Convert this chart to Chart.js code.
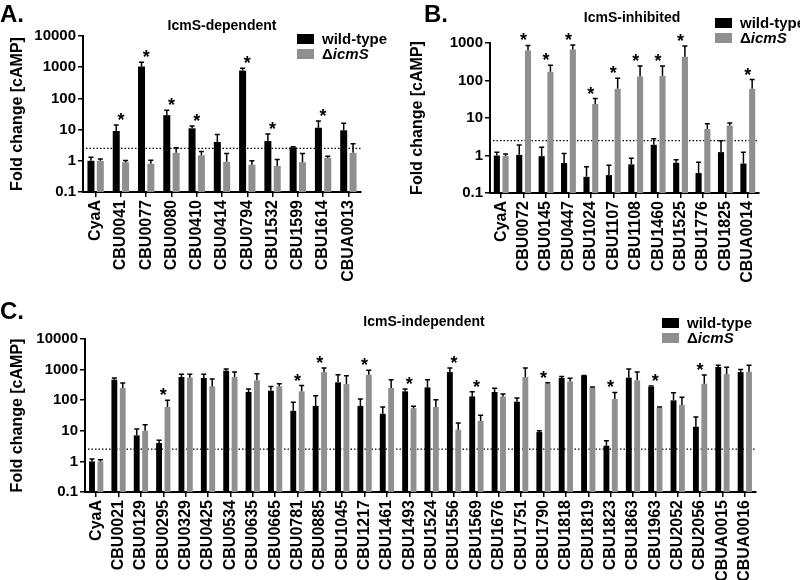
<!DOCTYPE html>
<html lang="en">
<head>
  <meta charset="UTF-8" />
  <title>Fold change cAMP - IcmS panels</title>
  <script src="https://cdn.jsdelivr.net/npm/chart.js"></script>
  <style>
    body { margin: 0; background: #fff; font-family: "Liberation Sans", Arial, sans-serif; }
    #wrap { position: relative; width: 800px; height: 580px; overflow: hidden; }
    canvas { position: absolute; }
    .lbl { position: absolute; font-weight: bold; color: #000; white-space: nowrap; }
    .letter { font-size: 24px; }
    .ttl { font-size: 14px; transform: translateX(-50%); }
    .leg { position: absolute; font-weight: bold; font-size: 15px; line-height: 15px; white-space: nowrap; }
    .leg div { height: 15px; display: flex; align-items: center; }
    .sw { display: inline-block; width: 17px; height: 10px; margin-right: 8px; }
  </style>
</head>
<body>
<div id="wrap">
  <canvas id="chartA" width="400" height="290" style="left:0;top:0"></canvas>
  <canvas id="chartB" width="400" height="290" style="left:400px;top:0"></canvas>
  <canvas id="chartC" width="800" height="290" style="left:0;top:290px"></canvas>

  <div class="lbl letter" style="left:0;top:0">A.</div>
  <div class="lbl letter" style="left:424px;top:0">B.</div>
  <div class="lbl letter" style="left:0;top:297px">C.</div>

  <div class="lbl ttl" style="left:222px;top:17px">IcmS-dependent</div>
  <div class="lbl ttl" style="left:632px;top:9px">IcmS-inhibited</div>
  <div class="lbl ttl" style="left:424px;top:313px">IcmS-independent</div>

  <div class="leg" style="left:297px;top:31px">
    <div><span class="sw" style="background:#000"></span>wild-type</div>
    <div><span class="sw" style="background:#8f8f8f"></span>Δ<i>icmS</i></div>
  </div>
  <div class="leg" style="left:715px;top:15px">
    <div><span class="sw" style="background:#000"></span>wild-type</div>
    <div><span class="sw" style="background:#8f8f8f"></span>Δ<i>icmS</i></div>
  </div>
  <div class="leg" style="left:662px;top:315px">
    <div><span class="sw" style="background:#000"></span>wild-type</div>
    <div><span class="sw" style="background:#8f8f8f"></span>Δ<i>icmS</i></div>
  </div>
</div>

<script>
  // panel A - IcmS-dependent
  const catsA = ['CyaA', 'CBU0041', 'CBU0077', 'CBU0080', 'CBU0410', 'CBU0414', 'CBU0794', 'CBU1532', 'CBU1599', 'CBU1614', 'CBUA0013'];
  const wtA = [1.0, 9, 1050, 29, 11, 4.0, 780, 4.3, 2.7, 11.5, 9.5];
  const wtUpA = [1.3, 14, 1450, 42, 13, 7, 920, 7.2, 2.8, 19, 16];
  const mutA = [1.0, 0.9, 0.8, 1.8, 1.5, 0.93, 0.75, 0.68, 0.9, 1.25, 1.8];
  const mutUpA = [1.15, 1.02, 1.05, 2.6, 2.0, 1.7, 1.0, 1.1, 1.7, 1.4, 3.5];
  const starsA = ['CBU0041', 'CBU0077', 'CBU0080', 'CBU0410', 'CBU0794', 'CBU1532', 'CBU1614'];
  const yTicksA = [0.1, 1, 10, 100, 1000, 10000];

  // panel B - IcmS-inhibited
  const catsB = ['CyaA', 'CBU0072', 'CBU0145', 'CBU0447', 'CBU1024', 'CBU1107', 'CBU1108', 'CBU1460', 'CBU1525', 'CBU1776', 'CBU1825', 'CBUA0014'];
  const wtB = [1.0, 1.04, 0.96, 0.63, 0.27, 0.3, 0.58, 1.93, 0.64, 0.34, 1.23, 0.61];
  const wtUpB = [1.23, 1.9, 1.67, 1.13, 0.5, 0.55, 0.85, 2.8, 0.77, 0.66, 2.46, 1.23];
  const mutB = [0.97, 630, 170, 670, 23.6, 60, 128, 133, 430, 5.1, 6.3, 60];
  const mutUpB = [1.1, 860, 256, 890, 33, 115, 245, 245, 830, 7.0, 7.4, 106];
  const starsB = ['CBU0072', 'CBU0145', 'CBU0447', 'CBU1024', 'CBU1107', 'CBU1108', 'CBU1460', 'CBU1525', 'CBUA0014'];
  const yTicksB = [0.1, 1, 10, 100, 1000];

  // panel C - IcmS-independent
  const catsC = ['CyaA', 'CBU0021', 'CBU0129', 'CBU0295', 'CBU0329', 'CBU0425', 'CBU0534', 'CBU0635', 'CBU0665', 'CBU0781',
    'CBU0885', 'CBU1045', 'CBU1217', 'CBU1461', 'CBU1493', 'CBU1524', 'CBU1556', 'CBU1569', 'CBU1676', 'CBU1751',
    'CBU1790', 'CBU1818', 'CBU1819', 'CBU1823', 'CBU1863', 'CBU1963', 'CBU2052', 'CBU2056', 'CBUA0015', 'CBUA0016'];
  const wtC = [1.0, 468, 7.1, 4.0, 572, 530, 920, 185, 204, 45, 65, 383, 65, 36, 195, 262, 830, 133, 185, 89,
    9.1, 530, 630, 3.25, 545, 276, 99, 13.6, 1215, 830];
  const wtUpC = [1.19, 530, 11.4, 4.9, 710, 700, 1040, 232, 283, 85, 140, 680, 109, 60, 232, 468, 1120, 190, 244, 118,
    10, 600, 640, 4.7, 1040, 290, 176, 28, 1400, 1000];
  const mutC = [1.0, 250, 10, 60, 545, 283, 572, 445, 283, 195, 830, 337, 680, 250, 55, 60, 10.8, 21, 133, 572,
    346, 413, 257, 109, 445, 57, 70, 346, 710, 850];
  const mutUpC = [1.13, 365, 15.8, 99, 710, 495, 830, 735, 346, 300, 1120, 630, 945, 468, 63, 104, 18, 32, 158, 1120,
    373, 520, 270, 180, 830, 60, 126, 665, 1190, 1400];
  const starsC = ['CBU0295', 'CBU0781', 'CBU0885', 'CBU1217', 'CBU1493', 'CBU1556', 'CBU1569', 'CBU1790', 'CBU1823', 'CBU1963', 'CBU2056'];
  const yTicksC = [0.1, 1, 10, 100, 1000, 10000];

  const cutoff = 2.5;
  const GRAY = '#8f8f8f';
  const FONT = '"Liberation Sans", Arial, sans-serif';

  Chart.defaults.font.family = FONT;
  Chart.defaults.color = '#000';

  // dotted cutoff line under the bars, error bars + asterisks on top
  const extras = {
    id: 'extras',
    beforeDatasetsDraw(chart) {
      const ctx = chart.ctx, y = chart.scales.y, a = chart.chartArea;
      const cy = y.getPixelForValue(cutoff);
      ctx.save();
      ctx.strokeStyle = '#000';
      ctx.lineWidth = 1.3;
      ctx.setLineDash([1.5, 2]);
      ctx.beginPath();
      ctx.moveTo(a.left + 3, cy);
      ctx.lineTo(a.right, cy);
      ctx.stroke();
      ctx.restore();
    },
    afterDatasetsDraw(chart, args, opts) {
      const ctx = chart.ctx, y = chart.scales.y, x = chart.scales.x;
      ctx.save();
      ctx.strokeStyle = '#000';
      ctx.lineWidth = 1.5;
      chart.data.datasets.forEach((ds, di) => {
        chart.getDatasetMeta(di).data.forEach((bar, i) => {
          const top = y.getPixelForValue(ds.upper[i]);
          ctx.beginPath();
          ctx.moveTo(bar.x, bar.y);
          ctx.lineTo(bar.x, top);
          ctx.moveTo(bar.x - 2.5, top);
          ctx.lineTo(bar.x + 2.5, top);
          ctx.stroke();
        });
      });
      ctx.fillStyle = '#000';
      ctx.font = 'bold 18px ' + FONT;
      ctx.textAlign = 'center';
      ctx.textBaseline = 'alphabetic';
      const labels = chart.data.labels;
      opts.stars.forEach(name => {
        const i = labels.indexOf(name);
        const hi = Math.max(...chart.data.datasets.map(ds => ds.upper[i]));
        ctx.fillText('*', x.getPixelForValue(i), y.getPixelForValue(hi) + 1);
      });
      ctx.restore();
    }
  };

  function makePanel(id, cats, wt, wtUp, mut, mutUp, stars, yTicks, box, catPct, barPct) {
    const canvas = document.getElementById(id);
    return new Chart(canvas, {
      type: 'bar',
      data: {
        labels: cats,
        datasets: [
          { label: 'wild-type', data: wt, upper: wtUp, backgroundColor: '#000', borderWidth: 0, categoryPercentage: catPct, barPercentage: barPct },
          { label: 'ΔicmS', data: mut, upper: mutUp, backgroundColor: GRAY, borderWidth: 0, categoryPercentage: catPct, barPercentage: barPct }
        ]
      },
      options: {
        responsive: false,
        animation: false,
        layout: { padding: { left: 0, top: box.top, right: canvas.width - box.right, bottom: 0 } },
        plugins: {
          legend: { display: false },
          tooltip: { enabled: false },
          extras: { stars: stars }
        },
        scales: {
          x: {
            type: 'category',
            offset: true,
            afterFit: s => { s.height = canvas.height - box.bottom; },
            border: { color: '#000', width: 2 },
            grid: { offset: false, drawOnChartArea: false, color: '#000', lineWidth: 1.5, tickLength: 5 },
            ticks: { autoSkip: false, maxRotation: 90, minRotation: 90, padding: 3, font: { size: 16, weight: 'bold' } }
          },
          y: {
            type: 'logarithmic',
            min: yTicks[0],
            max: yTicks[yTicks.length - 1],
            afterFit: s => { s.width = box.left; },
            afterBuildTicks: s => { s.ticks = yTicks.map(v => ({ value: v })); },
            border: { color: '#000', width: 2 },
            grid: { drawOnChartArea: false, color: '#000', lineWidth: 1.5, tickLength: 5 },
            ticks: { padding: 2, font: { size: 15, weight: 'bold' }, callback: v => String(v) },
            title: { display: true, text: 'Fold change [cAMP]', font: { size: 16, weight: 'bold' }, padding: { top: 8, bottom: 0 } }
          }
        }
      },
      plugins: [extras]
    });
  }

  makePanel('chartA', catsA, wtA, wtUpA, mutA, mutUpA, starsA, yTicksA, { left: 83, top: 36, right: 361, bottom: 192 }, 0.74, 0.75);
  makePanel('chartB', catsB, wtB, wtUpB, mutB, mutUpB, starsB, yTicksB, { left: 90, top: 43, right: 359, bottom: 193 }, 0.78, 0.7);
  makePanel('chartC', catsC, wtC, wtUpC, mutC, mutUpC, starsC, yTicksC, { left: 85, top: 49, right: 756, bottom: 202 }, 0.75, 0.7);
</script>
</body>
</html>
